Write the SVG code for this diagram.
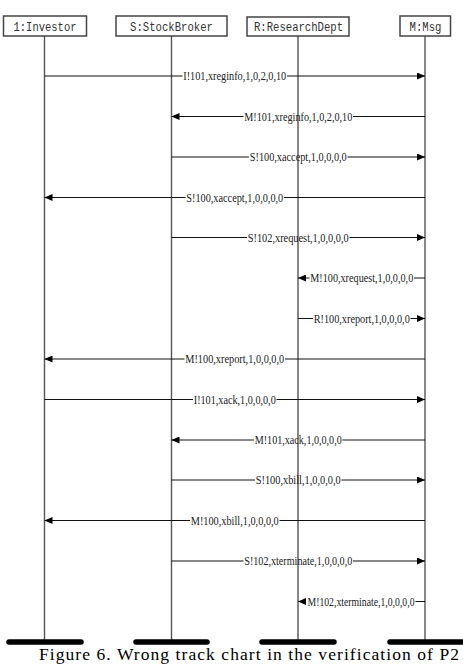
<svg xmlns="http://www.w3.org/2000/svg" width="463" height="665" viewBox="0 0 463 665">
<style>
.box{fill:#fff;stroke:#444;stroke-width:1.5}
.bt{font-family:"Liberation Mono",monospace;font-size:12.5px;fill:#333;text-anchor:middle}
.life{stroke:#555;stroke-width:1.4;fill:none}
.msg{stroke:#111;stroke-width:1;fill:none}
.arr{marker-end:url(#ah)}
.ml{font-family:"Liberation Serif",serif;font-size:11.5px;fill:#222;text-anchor:middle}
.end{stroke:#000;stroke-width:5.5;stroke-linecap:round}
.cap{font-family:"Liberation Serif",serif;font-size:17.5px;fill:#000;text-anchor:middle}
</style>
<defs>
<marker id="ah" markerUnits="userSpaceOnUse" markerWidth="8" markerHeight="7" refX="8" refY="3.5" orient="auto">
<path d="M0,0 L8,3.5 L0,7 z" fill="#000"/>
</marker>
</defs>
<g id="node-investor">
<line class="life" x1="44.5" y1="36" x2="44.5" y2="642"/>
<rect class="box" x="3.5" y="16" width="83" height="20"/>
<text class="bt" x="45" y="30.5" textLength="63" lengthAdjust="spacingAndGlyphs">1:Investor</text>
<line class="end" x1="9" y1="642" x2="81" y2="642"/>
</g>
<g id="node-stockbroker">
<line class="life" x1="171.5" y1="36" x2="171.5" y2="642"/>
<rect class="box" x="116" y="16" width="111" height="20"/>
<text class="bt" x="171.5" y="30.5" textLength="83" lengthAdjust="spacingAndGlyphs">S:StockBroker</text>
<line class="end" x1="136" y1="642" x2="207" y2="642"/>
</g>
<g id="node-researchdept">
<line class="life" x1="298" y1="36" x2="298" y2="642"/>
<rect class="box" x="247" y="17" width="102" height="19"/>
<text class="bt" x="298.5" y="30.5" textLength="89" lengthAdjust="spacingAndGlyphs">R:ResearchDept</text>
<line class="end" x1="262" y1="642" x2="334" y2="642"/>
</g>
<g id="node-msg">
<line class="life" x1="425" y1="36" x2="425" y2="642"/>
<rect class="box" x="400" y="16" width="50.5" height="20"/>
<text class="bt" x="425.5" y="30.5" textLength="32" lengthAdjust="spacingAndGlyphs">M:Msg</text>
<line class="end" x1="390" y1="642" x2="466" y2="642"/>
</g>
<g id="connectors">
<line class="msg" x1="44.5" y1="76" x2="182.5" y2="76"/>
<line class="msg arr" x1="287" y1="76" x2="425" y2="76"/>
<text class="ml" x="234.75" y="80" textLength="103" lengthAdjust="spacingAndGlyphs">I!101,xreginfo,1,0,2,0,10</text>

<line class="msg arr" x1="243.5" y1="116.5" x2="171.5" y2="116.5"/>
<line class="msg" x1="353" y1="116.5" x2="425" y2="116.5"/>
<text class="ml" x="298.25" y="120.5" textLength="108" lengthAdjust="spacingAndGlyphs">M!101,xreginfo,1,0,2,0,10</text>

<line class="msg" x1="171.5" y1="157" x2="249" y2="157"/>
<line class="msg arr" x1="347.5" y1="157" x2="425" y2="157"/>
<text class="ml" x="298.25" y="161" textLength="97" lengthAdjust="spacingAndGlyphs">S!100,xaccept,1,0,0,0,0</text>

<line class="msg arr" x1="185.5" y1="197.5" x2="44.5" y2="197.5"/>
<line class="msg" x1="284" y1="197.5" x2="425" y2="197.5"/>
<text class="ml" x="234.75" y="201.5" textLength="97" lengthAdjust="spacingAndGlyphs">S!100,xaccept,1,0,0,0,0</text>

<line class="msg" x1="171.5" y1="237.5" x2="247" y2="237.5"/>
<line class="msg arr" x1="349.5" y1="237.5" x2="425" y2="237.5"/>
<text class="ml" x="298.25" y="241.5" textLength="101" lengthAdjust="spacingAndGlyphs">S!102,xrequest,1,0,0,0,0</text>

<line class="msg arr" x1="309.5" y1="278" x2="298" y2="278"/>
<line class="msg" x1="414" y1="278" x2="425" y2="278"/>
<text class="ml" x="361.75" y="282" textLength="103" lengthAdjust="spacingAndGlyphs">M!100,xrequest,1,0,0,0,0</text>

<line class="msg" x1="298" y1="318.5" x2="313" y2="318.5"/>
<line class="msg arr" x1="410.5" y1="318.5" x2="425" y2="318.5"/>
<text class="ml" x="361.75" y="322.5" textLength="96" lengthAdjust="spacingAndGlyphs">R!100,xreport,1,0,0,0,0</text>

<line class="msg arr" x1="184.5" y1="359" x2="44.5" y2="359"/>
<line class="msg" x1="285" y1="359" x2="425" y2="359"/>
<text class="ml" x="234.75" y="363" textLength="99" lengthAdjust="spacingAndGlyphs">M!100,xreport,1,0,0,0,0</text>

<line class="msg" x1="44.5" y1="399.5" x2="193" y2="399.5"/>
<line class="msg arr" x1="276.5" y1="399.5" x2="425" y2="399.5"/>
<text class="ml" x="234.75" y="403.5" textLength="82" lengthAdjust="spacingAndGlyphs">I!101,xack,1,0,0,0,0</text>

<line class="msg arr" x1="254" y1="440" x2="171.5" y2="440"/>
<line class="msg" x1="342.5" y1="440" x2="425" y2="440"/>
<text class="ml" x="298.25" y="444" textLength="87" lengthAdjust="spacingAndGlyphs">M!101,xack,1,0,0,0,0</text>

<line class="msg" x1="171.5" y1="480" x2="255" y2="480"/>
<line class="msg arr" x1="341.5" y1="480" x2="425" y2="480"/>
<text class="ml" x="298.25" y="484" textLength="85" lengthAdjust="spacingAndGlyphs">S!100,xbill,1,0,0,0,0</text>

<line class="msg arr" x1="190" y1="520.5" x2="44.5" y2="520.5"/>
<line class="msg" x1="279.5" y1="520.5" x2="425" y2="520.5"/>
<text class="ml" x="234.75" y="524.5" textLength="88" lengthAdjust="spacingAndGlyphs">M!100,xbill,1,0,0,0,0</text>

<line class="msg" x1="171.5" y1="561" x2="243.5" y2="561"/>
<line class="msg arr" x1="353" y1="561" x2="425" y2="561"/>
<text class="ml" x="298.25" y="565" textLength="108" lengthAdjust="spacingAndGlyphs">S!102,xterminate,1,0,0,0,0</text>

<line class="msg arr" x1="306" y1="601.5" x2="298" y2="601.5"/>
<line class="msg" x1="415.5" y1="601.5" x2="425" y2="601.5"/>
<text class="ml" x="361" y="605.5" textLength="107" lengthAdjust="spacingAndGlyphs">M!102,xterminate,1,0,0,0,0</text>
</g>
<text class="cap" x="249" y="660" textLength="420" lengthAdjust="spacing">Figure 6. Wrong track chart in the verification of P2</text>
</svg>
